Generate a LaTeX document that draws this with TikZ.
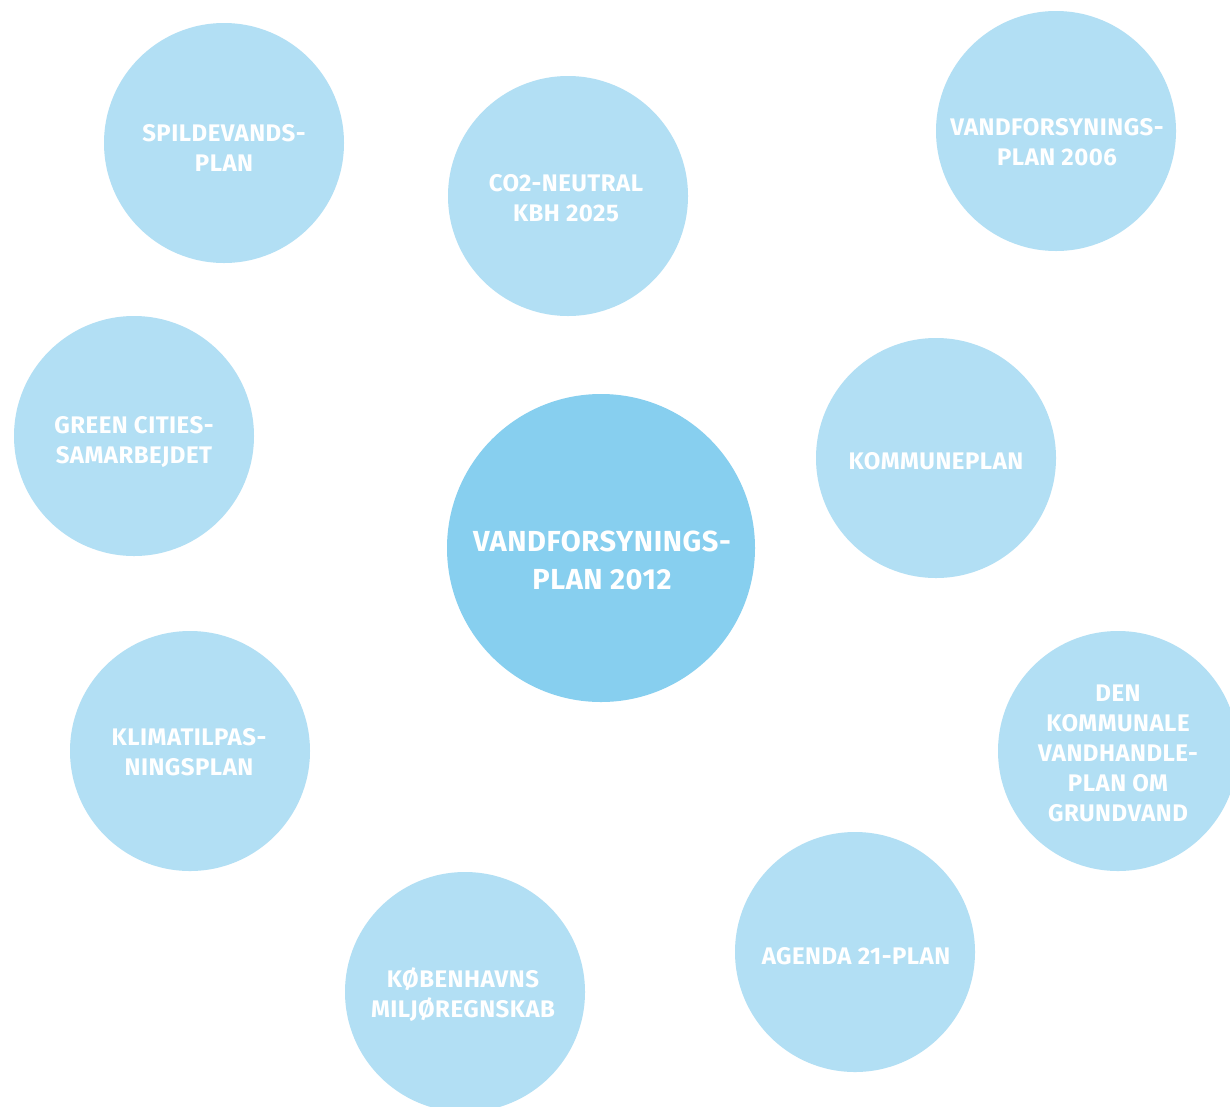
\documentclass[tikz,border=0pt]{standalone}
\usepackage{fontspec}
\setmainfont{Fira Sans}[LetterSpace=2]
\definecolor{lightc}{HTML}{B2DFF4}
\definecolor{darkc}{HTML}{87CFEF}
\begin{document}
\begin{tikzpicture}[x=1pt,y=-1pt,
  smallc/.style={circle,fill=lightc,minimum size=240pt,inner sep=0pt},
  bigc/.style={circle,fill=darkc,minimum size=308pt,inner sep=0pt},
  lbl/.style={text=white,align=center,inner sep=0pt,font=\bfseries\fontsize{24}{30}\selectfont},
  biglbl/.style={text=white,align=center,inner sep=0pt,font=\bfseries\fontsize{29}{38}\selectfont}]
\useasboundingbox (0,0) rectangle (1230,1106);
\clip (0,0) rectangle (1230,1106);
\fill[white] (0,0) rectangle (1230,1106);
% circles
\node[smallc] (c1) at (224,143) {};
\node[smallc] (c2) at (568,196) {};
\node[smallc] (c3) at (1056,131) {};
\node[smallc] (c4) at (134,436) {};
\node[bigc]   (c0) at (601,548) {};
\node[smallc] (c5) at (936,458) {};
\node[smallc] (c6) at (190,751) {};
\node[smallc] (c7) at (1118,751) {};
\node[smallc] (c8) at (855,952) {};
\node[smallc] (c9) at (465,992) {};
% labels
\node[lbl] (t1) at (224,148) {SPILDEVANDS-\\PLAN};
\node[lbl] (t2) at (566,198) {CO2-NEUTRAL\\KBH 2025};
\node[lbl] (t3) at (1057,142) {VANDFORSYNINGS-\\PLAN 2006};
\node[lbl] (t4) at (134,442) {GREEN CITIES-\\SAMARBEJDET};
\node[biglbl] (t0) at (602,560) {VANDFORSYNINGS-\\PLAN 2012};
\node[lbl] (t5) at (936,461) {KOMMUNEPLAN};
\node[lbl] (t6) at (189,752) {KLIMATILPAS-\\NINGSPLAN};
\node[lbl] (t7) at (1118,753) {DEN\\KOMMUNALE\\VANDHANDLE-\\PLAN OM\\GRUNDVAND};
\node[lbl] (t8) at (856,956) {AGENDA 21-PLAN};
\node[lbl] (t9) at (463,995) {KØBENHAVNS\\MILJØREGNSKAB};
\end{tikzpicture}
\end{document}
